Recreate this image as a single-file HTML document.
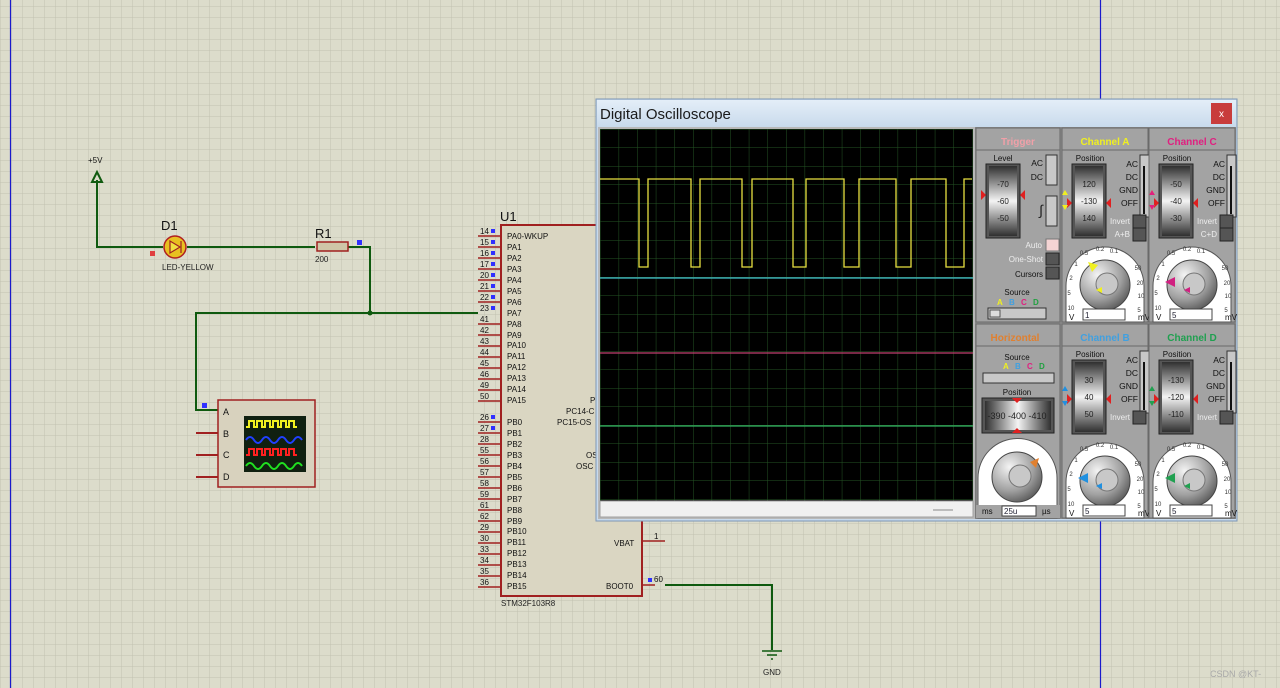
<!DOCTYPE html>
<html><head><meta charset="utf-8"><style>
html,body{margin:0;padding:0;background:#dcdccb;}
svg{display:block;font-family:"Liberation Sans",sans-serif;}
</style></head><body>
<svg width="1280" height="688" viewBox="0 0 1280 688" xmlns="http://www.w3.org/2000/svg">
<defs>
<pattern id="g" x="0.5" y="6.5" width="11" height="11" patternUnits="userSpaceOnUse">
<path d="M0 0H11M0 0V11" stroke="#c2c2b0" stroke-width="1" fill="none"/>
</pattern>
<pattern id="sg" x="600" y="129" width="18.6" height="18.5" patternUnits="userSpaceOnUse">
<path d="M0 0H18.6M0 0V18.5" stroke="#245424" stroke-width="1" fill="none"/>
</pattern>
<linearGradient id="drum" x1="0" y1="0" x2="0" y2="1">
<stop offset="0" stop-color="#303030"/><stop offset="0.5" stop-color="#f4f4f4"/><stop offset="1" stop-color="#303030"/>
</linearGradient>
<linearGradient id="hdrum" x1="0" y1="0" x2="1" y2="0">
<stop offset="0" stop-color="#303030"/><stop offset="0.5" stop-color="#f4f4f4"/><stop offset="1" stop-color="#303030"/>
</linearGradient>
<radialGradient id="knob" cx="0.35" cy="0.3" r="0.8">
<stop offset="0" stop-color="#f4f4f4"/><stop offset="0.6" stop-color="#a0a0a0"/><stop offset="1" stop-color="#505050"/>
</radialGradient>
<linearGradient id="title" x1="0" y1="0" x2="0" y2="1">
<stop offset="0" stop-color="#e4eef8"/><stop offset="1" stop-color="#c8daec"/>
</linearGradient>
<g id="chan">
<rect x="0" y="0" width="86" height="194" fill="#a3a3a3" stroke="#6a6a6a"/>
<line x1="0" y1="22" x2="86" y2="22" stroke="#6a6a6a"/>
<text x="28" y="33" font-size="8" text-anchor="middle" fill="#111">Position</text>
<rect x="10" y="36" width="34" height="74" fill="#555" stroke="#222"/>
<rect x="13" y="38" width="28" height="70" fill="url(#drum)"/>
<text x="76" y="39" font-size="8.5" text-anchor="end" fill="#111">AC</text>
<text x="76" y="52" font-size="8.5" text-anchor="end" fill="#111">DC</text>
<text x="76" y="65" font-size="8.5" text-anchor="end" fill="#111">GND</text>
<text x="76" y="78" font-size="8.5" text-anchor="end" fill="#111">OFF</text>
<rect x="78" y="27" width="9" height="62" fill="#c8c8c8" stroke="#333"/>
<rect x="81" y="38" width="2" height="48" fill="#111"/>
<text x="68" y="96" font-size="8" text-anchor="end" fill="#eee">Invert</text>
<rect x="71" y="87" width="13" height="13" fill="#555" stroke="#222"/>
<path d="M4 194 V158 A39 39 0 0 1 82 158 V194 Z" fill="#fff" stroke="#555"/>
<g font-size="6" fill="#333" text-anchor="middle"><text x="22" y="127">0.5</text><text x="38" y="123">0.2</text><text x="52" y="125">0.1</text><text x="14" y="138">1</text><text x="9" y="152">2</text><text x="7" y="167">5</text><text x="9" y="182">10</text><text x="76" y="142">50</text><text x="78" y="157">20</text><text x="79" y="170">10</text><text x="77" y="184">5</text></g>
<circle cx="43" cy="157" r="25" fill="url(#knob)" stroke="#444"/>
<circle cx="45" cy="156" r="11" fill="#c8c8c8" stroke="#777"/>
<text x="7" y="192" font-size="8" fill="#111">V</text>
<rect x="21" y="181" width="42" height="11" fill="#fff" stroke="#444"/>
<text x="76" y="192" font-size="8" fill="#111">mV</text>
</g>
</defs>
<rect width="1280" height="688" fill="#dcdccb"/>
<rect width="1280" height="688" fill="url(#g)"/>
<line x1="10.5" y1="0" x2="10.5" y2="688" stroke="#1a1acc" stroke-width="1.2"/>
<line x1="1100.5" y1="0" x2="1100.5" y2="688" stroke="#1a1acc" stroke-width="1.2"/>

<g stroke="#0f5a0f" stroke-width="2" fill="none">
<path d="M97 180 V247 H163"/>
<path d="M187 247 H315"/>
<path d="M348 247 H370 V313"/>
<path d="M478 313 H196 V410 H218"/>
<path d="M665 585 H772 V650"/>
</g>
<circle cx="370" cy="313" r="2.5" fill="#0f5a0f"/>
<text x="88" y="163" font-size="8" fill="#111">+5V</text>
<path d="M97 172 L92 182 H102 Z" fill="none" stroke="#0f5a0f" stroke-width="2"/>
<text x="161" y="230" font-size="13" fill="#111">D1</text>
<circle cx="175" cy="247" r="11" fill="#e8c020" stroke="#b02020" stroke-width="1.5"/>
<path d="M170 241 V253 L180 247 Z M181 241 V253" stroke="#a02020" stroke-width="1.2" fill="#f0e040"/>
<rect x="150" y="251" width="5" height="5" fill="#e04040"/>
<text x="162" y="270" font-size="8" fill="#222">LED-YELLOW</text>
<text x="315" y="238" font-size="13" fill="#111">R1</text>
<rect x="317" y="242" width="31" height="9" fill="#cfc6a8" stroke="#a02020" stroke-width="1.5"/>
<text x="315" y="262" font-size="8" fill="#222">200</text>
<rect x="357" y="240" width="5" height="5" fill="#3030ff"/>
<rect x="202" y="403" width="5" height="5" fill="#3030ff"/>
<g stroke="#a02020" stroke-width="2"><line x1="196" y1="433" x2="218" y2="433"/><line x1="196" y1="455" x2="218" y2="455"/><line x1="196" y1="477" x2="218" y2="477"/></g>
<rect x="218" y="400" width="97" height="87" fill="#d8d2be" stroke="#a02020" stroke-width="1.5"/>
<g font-size="9" fill="#111"><text x="223" y="415">A</text><text x="223" y="437">B</text><text x="223" y="458">C</text><text x="223" y="480">D</text></g>
<rect x="244" y="416" width="62" height="56" fill="#102010"/>
<g fill="none" stroke-width="2">
<path d="M246 427 h3 v-6 h5 v6 h3 v-6 h5 v6 h3 v-6 h5 v6 h3 v-6 h5 v6 h3 v-6 h5 v6 h3 v-6 h5 v6 h3" stroke="#f0f020"/>
<path d="M246 440 q4 -6 8 0 t8 0 t8 0 t8 0 t8 0 t8 0 t8 0" stroke="#2040ff"/>
<path d="M246 455 h3 v-6 h5 v6 h3 v-6 h5 v6 h3 v-6 h5 v6 h3 v-6 h5 v6 h3 v-6 h5 v6 h3 v-6 h5 v6 h3" stroke="#ff2020"/>
<path d="M246 466 q4 -6 8 0 t8 0 t8 0 t8 0 t8 0 t8 0 t8 0" stroke="#20e020"/>
</g>
<text x="500" y="221" font-size="13" fill="#111">U1</text>
<rect x="501" y="225" width="141" height="371" fill="#dad6c2" stroke="#a02020" stroke-width="2"/>
<g font-size="8" fill="#111">
<text x="507" y="239">PA0-WKUP</text><text x="507" y="250">PA1</text><text x="507" y="261">PA2</text><text x="507" y="272">PA3</text><text x="507" y="283">PA4</text><text x="507" y="294">PA5</text><text x="507" y="305">PA6</text><text x="507" y="316">PA7</text><text x="507" y="327">PA8</text><text x="507" y="338">PA9</text><text x="507" y="348">PA10</text><text x="507" y="359">PA11</text><text x="507" y="370">PA12</text><text x="507" y="381">PA13</text><text x="507" y="392">PA14</text><text x="507" y="403">PA15</text>
<text x="507" y="425">PB0</text><text x="507" y="436">PB1</text><text x="507" y="447">PB2</text><text x="507" y="458">PB3</text><text x="507" y="469">PB4</text><text x="507" y="480">PB5</text><text x="507" y="491">PB6</text><text x="507" y="502">PB7</text><text x="507" y="513">PB8</text><text x="507" y="524">PB9</text><text x="507" y="534">PB10</text><text x="507" y="545">PB11</text><text x="507" y="556">PB12</text><text x="507" y="567">PB13</text><text x="507" y="578">PB14</text><text x="507" y="589">PB15</text>
<text x="590" y="403">P</text><text x="566" y="414">PC14-C</text><text x="557" y="425">PC15-OS</text><text x="586" y="458">OS</text><text x="576" y="469">OSC</text>
<text x="614" y="546">VBAT</text><text x="606" y="589">BOOT0</text>
</g>
<g font-size="8" fill="#111">
<text x="480" y="234">14</text><text x="480" y="245">15</text><text x="480" y="256">16</text><text x="480" y="267">17</text><text x="480" y="278">20</text><text x="480" y="289">21</text><text x="480" y="300">22</text><text x="480" y="311">23</text><text x="480" y="322">41</text><text x="480" y="333">42</text><text x="480" y="344">43</text><text x="480" y="355">44</text><text x="480" y="366">45</text><text x="480" y="377">46</text><text x="480" y="388">49</text><text x="480" y="399">50</text>
<text x="480" y="420">26</text><text x="480" y="431">27</text><text x="480" y="442">28</text><text x="480" y="453">55</text><text x="480" y="464">56</text><text x="480" y="475">57</text><text x="480" y="486">58</text><text x="480" y="497">59</text><text x="480" y="508">61</text><text x="480" y="519">62</text><text x="480" y="530">29</text><text x="480" y="541">30</text><text x="480" y="552">33</text><text x="480" y="563">34</text><text x="480" y="574">35</text><text x="480" y="585">36</text>
<text x="654" y="539">1</text><text x="654" y="582">60</text>
</g>
<g stroke="#a02020" stroke-width="1.5">
<path d="M478 236H501M478 247H501M478 258H501M478 269H501M478 280H501M478 291H501M478 302H501M478 324H501M478 335H501M478 346H501M478 357H501M478 368H501M478 379H501M478 390H501M478 401H501"/>
<path d="M478 422H501M478 433H501M478 444H501M478 455H501M478 466H501M478 477H501M478 488H501M478 499H501M478 510H501M478 521H501M478 532H501M478 543H501M478 554H501M478 565H501M478 576H501M478 587H501"/>
<path d="M642 541H665M642 585H655"/>
</g>
<g fill="#3030ff"><rect x="491" y="229" width="4" height="4"/><rect x="491" y="240" width="4" height="4"/><rect x="491" y="251" width="4" height="4"/><rect x="491" y="262" width="4" height="4"/><rect x="491" y="273" width="4" height="4"/><rect x="491" y="284" width="4" height="4"/><rect x="491" y="295" width="4" height="4"/><rect x="491" y="306" width="4" height="4"/><rect x="491" y="415" width="4" height="4"/><rect x="491" y="426" width="4" height="4"/><rect x="648" y="578" width="4" height="4"/></g>
<text x="501" y="606" font-size="8" fill="#222">STM32F103R8</text>
<g stroke="#0f5a0f" stroke-width="1.5"><line x1="762" y1="651" x2="782" y2="651"/><line x1="767" y1="655" x2="777" y2="655"/><line x1="771" y1="659" x2="773" y2="659"/></g>
<text x="763" y="675" font-size="8" fill="#222">GND</text>
<text x="1210" y="677" font-size="9" fill="#a8a8a8">CSDN @KT-</text>

<rect x="596" y="99" width="641" height="422" fill="#c8daec" stroke="#7d96b4"/>
<rect x="597" y="100" width="639" height="27" fill="url(#title)"/>
<text x="600" y="119" font-size="15" fill="#1a1a1a">Digital Oscilloscope</text>
<rect x="1211" y="103" width="21" height="21" fill="#c83c3c"/>
<text x="1221.5" y="117" font-size="10" fill="#fff" text-anchor="middle">x</text>
<rect x="598" y="127" width="377" height="392" fill="#b8b8b8"/>
<rect x="600" y="129" width="373" height="372" fill="#000"/>
<rect x="600" y="129" width="373" height="372" fill="url(#sg)"/>
<rect x="600" y="501" width="373" height="16" fill="#f0f0f0" stroke="#a0a0a0"/>
<line x1="933" y1="510" x2="953" y2="510" stroke="#888"/>
<path d="M600 179 H639 V267 H648 V179 H691 V267 H700 V179 H742 V267 H752 V179 H793 V267 H806 V179 H844 V267 H859 V179 H896 V267 H911 V179 H946 V267 H964 V179 H972" fill="none" stroke="#e8e040" stroke-width="1.3"/>
<line x1="600" y1="278" x2="973" y2="278" stroke="#40c0d0" stroke-width="1.2"/>
<line x1="600" y1="353" x2="973" y2="353" stroke="#c04070" stroke-width="1.2"/>
<line x1="600" y1="426" x2="973" y2="426" stroke="#30b060" stroke-width="1.2"/>

<rect x="975" y="127" width="261" height="392" fill="#8c8c8c"/>
<rect x="976" y="128" width="84" height="194" fill="#a3a3a3" stroke="#6a6a6a"/>
<line x1="976" y1="150" x2="1060" y2="150" stroke="#6a6a6a"/>
<text x="1018" y="145" font-size="10" font-weight="bold" text-anchor="middle" fill="#f0a0a8">Trigger</text>
<text x="1003" y="161" font-size="8" text-anchor="middle" fill="#111">Level</text>
<rect x="986" y="164" width="34" height="74" fill="#555" stroke="#222"/>
<rect x="989" y="166" width="28" height="70" fill="url(#drum)"/>
<g font-size="8" fill="#222" text-anchor="middle"><text x="1003" y="187">-70</text><text x="1003" y="204">-60</text><text x="1003" y="221">-50</text></g>
<path d="M986 195 l-5 -5 v10 Z M1020 195 l5 -5 v10 Z" fill="#e02020"/>
<text x="1043" y="166" font-size="8.5" text-anchor="end" fill="#111">AC</text>
<text x="1043" y="180" font-size="8.5" text-anchor="end" fill="#111">DC</text>
<rect x="1046" y="155" width="11" height="30" fill="#c8c8c8" stroke="#333"/>
<rect x="1046" y="196" width="11" height="30" fill="#c8c8c8" stroke="#333"/>
<text x="1043" y="215" font-size="14" text-anchor="end" fill="#222">∫</text>
<text x="1042" y="248" font-size="8" text-anchor="end" fill="#eee">Auto</text>
<rect x="1046" y="239" width="13" height="12" fill="#f4d4d4" stroke="#777"/>
<text x="1043" y="262" font-size="8" text-anchor="end" fill="#eee">One-Shot</text>
<rect x="1046" y="253" width="13" height="12" fill="#555" stroke="#222"/>
<text x="1043" y="277" font-size="8" text-anchor="end" fill="#111">Cursors</text>
<rect x="1046" y="267" width="13" height="12" fill="#555" stroke="#222"/>
<text x="1017" y="295" font-size="8" text-anchor="middle" fill="#111">Source</text>
<g font-size="8" font-weight="bold"><text x="997" y="305" fill="#f0f020">A</text><text x="1009" y="305" fill="#40a0e0">B</text><text x="1021" y="305" fill="#e02080">C</text><text x="1033" y="305" fill="#20a040">D</text></g>
<rect x="988" y="308" width="58" height="11" fill="#c8c8c8" stroke="#333"/>
<rect x="990" y="310" width="10" height="7" fill="#ddd" stroke="#555"/>

<rect x="976" y="324" width="84" height="194" fill="#a3a3a3" stroke="#6a6a6a"/>
<line x1="976" y1="346" x2="1060" y2="346" stroke="#6a6a6a"/>
<text x="1015" y="341" font-size="10" font-weight="bold" text-anchor="middle" fill="#e08030">Horizontal</text>
<text x="1017" y="360" font-size="8" text-anchor="middle" fill="#111">Source</text>
<g font-size="8" font-weight="bold"><text x="1003" y="369" fill="#f0f020">A</text><text x="1015" y="369" fill="#40a0e0">B</text><text x="1027" y="369" fill="#e02080">C</text><text x="1039" y="369" fill="#20a040">D</text></g>
<rect x="983" y="373" width="71" height="10" fill="#c8c8c8" stroke="#333"/>
<text x="1017" y="395" font-size="8" text-anchor="middle" fill="#111">Position</text>
<rect x="982" y="398" width="72" height="35" fill="#555" stroke="#222"/>
<rect x="985" y="401" width="66" height="29" fill="url(#hdrum)"/>
<text x="1017" y="419" font-size="9" text-anchor="middle" fill="#222">-390 -400 -410</text>
<path d="M1017 403 l-5 -5 h10 Z M1017 428 l-5 5 h10 Z" fill="#e02020"/>
<path d="M978 518 V478 A39 39 0 0 1 1057 478 V518 Z" fill="#fff" stroke="#555"/>
<circle cx="1017" cy="477" r="25" fill="url(#knob)" stroke="#444"/>
<circle cx="1020" cy="476" r="11" fill="#c8c8c8" stroke="#777"/>
<path d="M1030 462 l9 -4 l-3 10 Z" fill="#e08030"/>
<rect x="976" y="505" width="84" height="13" fill="#a3a3a3"/>
<text x="982" y="514" font-size="8" fill="#111">ms</text>
<rect x="1002" y="506" width="34" height="10" fill="#fff" stroke="#444"/>
<text x="1004" y="514" font-size="8" fill="#223">25u</text>
<text x="1042" y="514" font-size="8" fill="#111">µs</text>

<use href="#chan" x="1062" y="128"/>
<use href="#chan" x="1149" y="128"/>
<use href="#chan" x="1062" y="324"/>
<use href="#chan" x="1149" y="324"/>
<g font-size="10" font-weight="bold" text-anchor="middle">
<text x="1105" y="145" fill="#f0f020">Channel A</text>
<text x="1192" y="145" fill="#e02080">Channel C</text>
<text x="1105" y="341" fill="#40a0e0">Channel B</text>
<text x="1192" y="341" fill="#20a050">Channel D</text>
</g>
<g font-size="8" fill="#222" text-anchor="middle">
<text x="1089" y="187">120</text><text x="1089" y="204">-130</text><text x="1089" y="221">140</text>
<text x="1176" y="187">-50</text><text x="1176" y="204">-40</text><text x="1176" y="221">-30</text>
<text x="1089" y="383">30</text><text x="1089" y="400">40</text><text x="1089" y="417">50</text>
<text x="1176" y="383">-130</text><text x="1176" y="400">-120</text><text x="1176" y="417">-110</text>
</g>
<g fill="#e02020">
<path d="M1072 203 l-5 -5 v10 Z M1106 203 l5 -5 v10 Z M1159 203 l-5 -5 v10 Z M1193 203 l5 -5 v10 Z M1072 399 l-5 -5 v10 Z M1106 399 l5 -5 v10 Z M1159 399 l-5 -5 v10 Z M1193 399 l5 -5 v10 Z"/>
</g>
<text x="1130" y="237" font-size="8" text-anchor="end" fill="#eee">A+B</text>
<rect x="1133" y="228" width="13" height="13" fill="#555" stroke="#222"/>
<text x="1217" y="237" font-size="8" text-anchor="end" fill="#eee">C+D</text>
<rect x="1220" y="228" width="13" height="13" fill="#555" stroke="#222"/>
<path d="M1088 262 l10 3 l-6 7 Z" fill="#f0f020"/>
<path d="M1165 282 l10 -5 v10 Z" fill="#d02080"/>
<path d="M1078 478 l10 -5 v10 Z" fill="#2090e0"/>
<path d="M1165 478 l10 -5 v10 Z" fill="#20a050"/>
<path d="M1096 290 l6 -3 v6 Z" fill="#f0f020"/>
<path d="M1184 290 l6 -3 v6 Z" fill="#d02080"/>
<path d="M1096 486 l6 -3 v6 Z" fill="#2090e0"/>
<path d="M1184 486 l6 -3 v6 Z" fill="#20a050"/>
<g font-size="8" fill="#223"><text x="1085" y="318">1</text><text x="1172" y="318">5</text><text x="1085" y="514">5</text><text x="1172" y="514">5</text></g>
<path d="M1065 190 l3 5 h-6 Z M1065 210 l3 -5 h-6 Z M1152 190 l3 5 h-6 Z M1152 210 l3 -5 h-6 Z" fill="#f0f020"/>
<path d="M1152 190 l3 5 h-6 Z M1152 210 l3 -5 h-6 Z" fill="#e02080"/>
<path d="M1065 386 l3 5 h-6 Z M1065 406 l3 -5 h-6 Z" fill="#2090e0"/>
<path d="M1152 386 l3 5 h-6 Z M1152 406 l3 -5 h-6 Z" fill="#20a050"/>
</svg>
</body></html>
